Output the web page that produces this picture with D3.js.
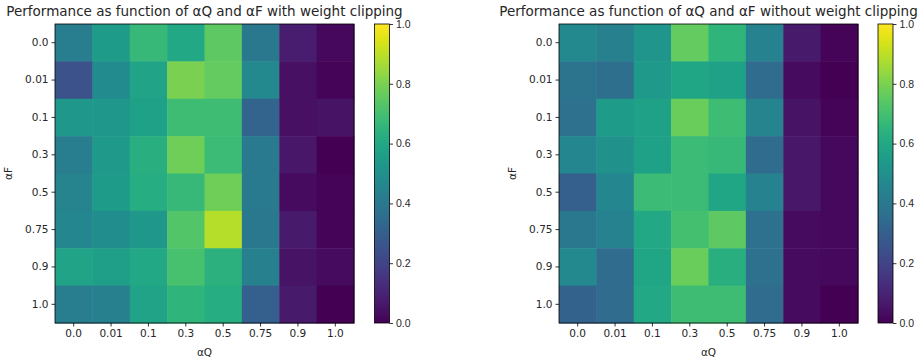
<!DOCTYPE html>
<html>
<head>
<meta charset="utf-8">
<script src="https://cdn.jsdelivr.net/npm/d3@7"></script>
<style>
  body { margin: 0; background: #fff; }
  svg { font-family: "DejaVu Sans", sans-serif; }
  .tick text { font-size: 10.5px; fill: #262626; }
</style>
</head>
<body>
<div id="chart"></div>
<script>
// axis categories
const alphaQ = ['0.0', '0.01', '0.1', '0.3', '0.5', '0.75', '0.9', '1.0'];
const alphaF = ['0.0', '0.01', '0.1', '0.3', '0.5', '0.75', '0.9', '1.0'];
const cbarTicks = [0.0, 0.2, 0.4, 0.6, 0.8, 1.0];

// rows = alphaF, columns = alphaQ
const withClipping = [
  [0.42, 0.55, 0.67, 0.60, 0.75, 0.40, 0.08, 0.02],
  [0.25, 0.48, 0.58, 0.80, 0.76, 0.47, 0.04, 0.01],
  [0.53, 0.53, 0.57, 0.69, 0.69, 0.32, 0.04, 0.05],
  [0.42, 0.54, 0.63, 0.78, 0.68, 0.41, 0.06, 0.00],
  [0.45, 0.55, 0.62, 0.67, 0.78, 0.41, 0.03, 0.01],
  [0.46, 0.49, 0.53, 0.73, 0.89, 0.40, 0.07, 0.01],
  [0.58, 0.56, 0.60, 0.71, 0.64, 0.43, 0.05, 0.03],
  [0.42, 0.43, 0.58, 0.65, 0.62, 0.30, 0.07, 0.00]
];

const withoutClipping = [
  [0.47, 0.43, 0.52, 0.76, 0.65, 0.44, 0.07, 0.01],
  [0.38, 0.36, 0.54, 0.59, 0.57, 0.35, 0.03, 0.00],
  [0.37, 0.55, 0.57, 0.77, 0.69, 0.45, 0.05, 0.01],
  [0.46, 0.50, 0.57, 0.68, 0.67, 0.35, 0.06, 0.02],
  [0.30, 0.46, 0.68, 0.68, 0.59, 0.44, 0.06, 0.02],
  [0.40, 0.44, 0.60, 0.70, 0.75, 0.37, 0.03, 0.02],
  [0.47, 0.35, 0.59, 0.77, 0.63, 0.37, 0.03, 0.02],
  [0.31, 0.35, 0.60, 0.69, 0.69, 0.35, 0.03, 0.00]
];

const titles = [
  'Performance as function of \u03b1Q and \u03b1F with weight clipping',
  'Performance as function of \u03b1Q and \u03b1F without weight clipping'
];

const W = 922, H = 358;
const svg = d3.select('#chart').append('svg')
  .attr('width', W)
  .attr('height', H);

const color = d3.scaleSequential(d3.interpolateViridis).domain([0, 1]);

// gradient for the colorbars
const grad = svg.append('defs').append('linearGradient')
  .attr('id', 'viridis')
  .attr('x1', 0).attr('y1', 1).attr('x2', 0).attr('y2', 0);
d3.range(0, 1.0001, 0.02).forEach(t => {
  grad.append('stop').attr('offset', t).attr('stop-color', color(t));
});

function drawPanel(left, data, title, cbLeft) {
  const top = 24, size = 299;
  const g = svg.append('g').attr('transform', `translate(${left},${top})`);

  const x = d3.scaleBand().domain(alphaQ).range([0, size]);
  const y = d3.scaleBand().domain(alphaF).range([0, size]);

  data.forEach((row, i) => {
    g.selectAll(null)
      .data(row)
      .enter()
      .append('rect')
      .attr('x', (d, j) => x(alphaQ[j]))
      .attr('y', y(alphaF[i]))
      .attr('width', x.bandwidth() + 0.5)
      .attr('height', y.bandwidth() + 0.5)
      .attr('fill', d => color(d));
  });

  g.append('rect')
    .attr('width', size).attr('height', size)
    .attr('fill', 'none').attr('stroke', '#000').attr('stroke-width', 0.8);

  // X axis
  const xa = g.append('g')
    .attr('transform', `translate(0,${size})`)
    .call(d3.axisBottom(x).tickSize(3.5).tickPadding(3));
  // Y axis
  const ya = g.append('g')
    .call(d3.axisLeft(y).tickSize(3.5).tickPadding(3));
  [xa, ya].forEach(a => {
    a.select('.domain').remove();
    a.selectAll('.tick line').attr('stroke', '#000').attr('stroke-width', 0.8);
    a.selectAll('.tick text').style('font-family', '"DejaVu Sans", sans-serif');
  });

  g.append('text')
    .attr('x', size / 2).attr('y', size + 33)
    .attr('text-anchor', 'middle')
    .attr('font-size', 10.5).attr('fill', '#262626')
    .text('\u03b1Q');

  g.append('text')
    .attr('transform', `translate(${-43},${size / 2}) rotate(-90)`)
    .attr('text-anchor', 'middle')
    .attr('font-size', 10.5).attr('fill', '#262626')
    .text('\u03b1F');

  g.append('text')
    .attr('x', size / 2).attr('y', -8)
    .attr('text-anchor', 'middle')
    .attr('font-size', 13.5).attr('fill', '#262626')
    .text(title);

  // colorbar
  const cb = svg.append('g').attr('transform', `translate(${cbLeft},${top})`);
  const cbScale = d3.scaleLinear().domain([0, 1]).range([size, 0]);
  cb.append('rect')
    .attr('width', 15).attr('height', size)
    .attr('fill', 'url(#viridis)')
    .attr('stroke', '#000').attr('stroke-width', 0.8);
  const ca = cb.append('g')
    .attr('transform', 'translate(15,0)')
    .call(d3.axisRight(cbScale).tickValues(cbarTicks).tickFormat(d3.format('.1f')).tickSize(3.5).tickPadding(3));
  ca.select('.domain').remove();
  ca.selectAll('.tick line').attr('stroke', '#000').attr('stroke-width', 0.8);
}

drawPanel(55, withClipping, titles[0], 374.5);
drawPanel(559, withoutClipping, titles[1], 878);
</script>
</body>
</html>
